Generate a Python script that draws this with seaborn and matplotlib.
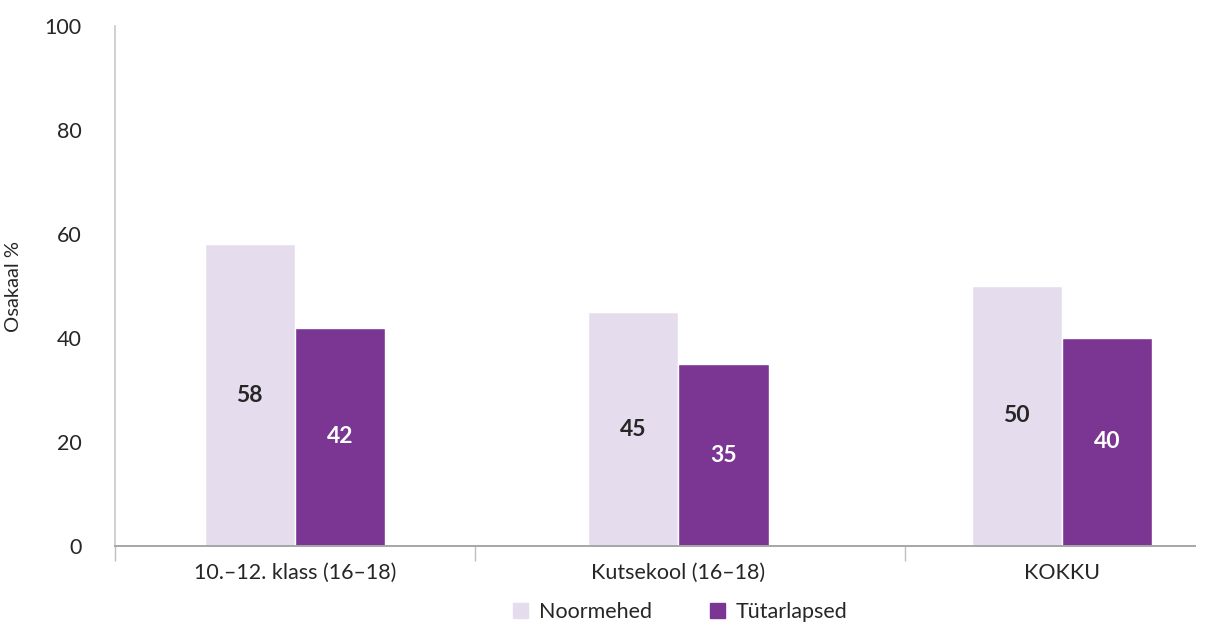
"""Osakaal % by school type, Noormehed vs Tütarlapsed."""

import matplotlib.pyplot as plt
import pandas as pd
import seaborn as sns

categories = ["10.–12. klass (16–18)", "Kutsekool (16–18)", "KOKKU"]
groups = ["Noormehed", "Tütarlapsed"]
noormehed = [58, 45, 50]
tutarlapsed = [42, 35, 40]

df = pd.DataFrame({
    "kategooria": categories * 2,
    "grupp": [groups[0]] * 3 + [groups[1]] * 3,
    "osakaal": noormehed + tutarlapsed,
})

sns.set_theme(style="white")
plt.rcParams["font.family"] = ["Lato", "DejaVu Sans"]

light = "#E5DDED"
dark = "#7B3593"

fig = plt.figure(figsize=(12.1, 6.25), dpi=100)
ax = fig.add_axes([0.095, 0.1264, 0.8926, 0.832])

sns.barplot(
    data=df, x="kategooria", y="osakaal", hue="grupp",
    palette=[light, dark], width=0.47, saturation=1, ax=ax, legend=False,
)

ax.set_ylim(0, 100)
ax.set_xlim(-0.469, 2.347)
ax.set_yticks(range(0, 101, 20))

ax.tick_params(axis="y", which="major", length=0, pad=24, labelsize=15.5, labelcolor="#262626")
ax.tick_params(axis="x", which="major", length=0, pad=12, labelsize=15.5, labelcolor="#262626")
# boundary ticks between the groups
ax.set_xticks([-0.469, 0.47, 1.59], minor=True)
ax.tick_params(axis="x", which="minor", bottom=True, length=11, width=1,
               color="#BFBFBF", direction="out")
ax.set_yticks([0], minor=True)
ax.tick_params(axis="y", which="minor", left=True, length=14, width=1.4,
               color="#A6A6A6", direction="out")

ax.set_xlabel("")
ax.set_ylabel("Osakaal %", fontsize=14.5, color="#262626", labelpad=16)

for side in ["top", "right"]:
    ax.spines[side].set_visible(False)
ax.spines["left"].set_color("#C8C8C8")
ax.spines["left"].set_linewidth(1.2)
ax.spines["bottom"].set_color("#A6A6A6")
ax.spines["bottom"].set_linewidth(1.4)

label_colors = ["#262626", "white"]
for cont, col in zip(ax.containers, label_colors):
    ax.bar_label(cont, fmt="%d", label_type="center", fontsize=16.5,
                 fontweight="bold", color=col)

handles = [plt.Rectangle((0, 0), 1, 1, color=c) for c in (light, dark)]
fig.legend(
    handles, groups, loc="center", bbox_to_anchor=(0.562, 0.021), ncol=2,
    frameon=False, fontsize=15.5, handlelength=0.7, handleheight=0.7,
    handletextpad=0.5, columnspacing=2.7,
)

fig.savefig("out.png", dpi=100)
